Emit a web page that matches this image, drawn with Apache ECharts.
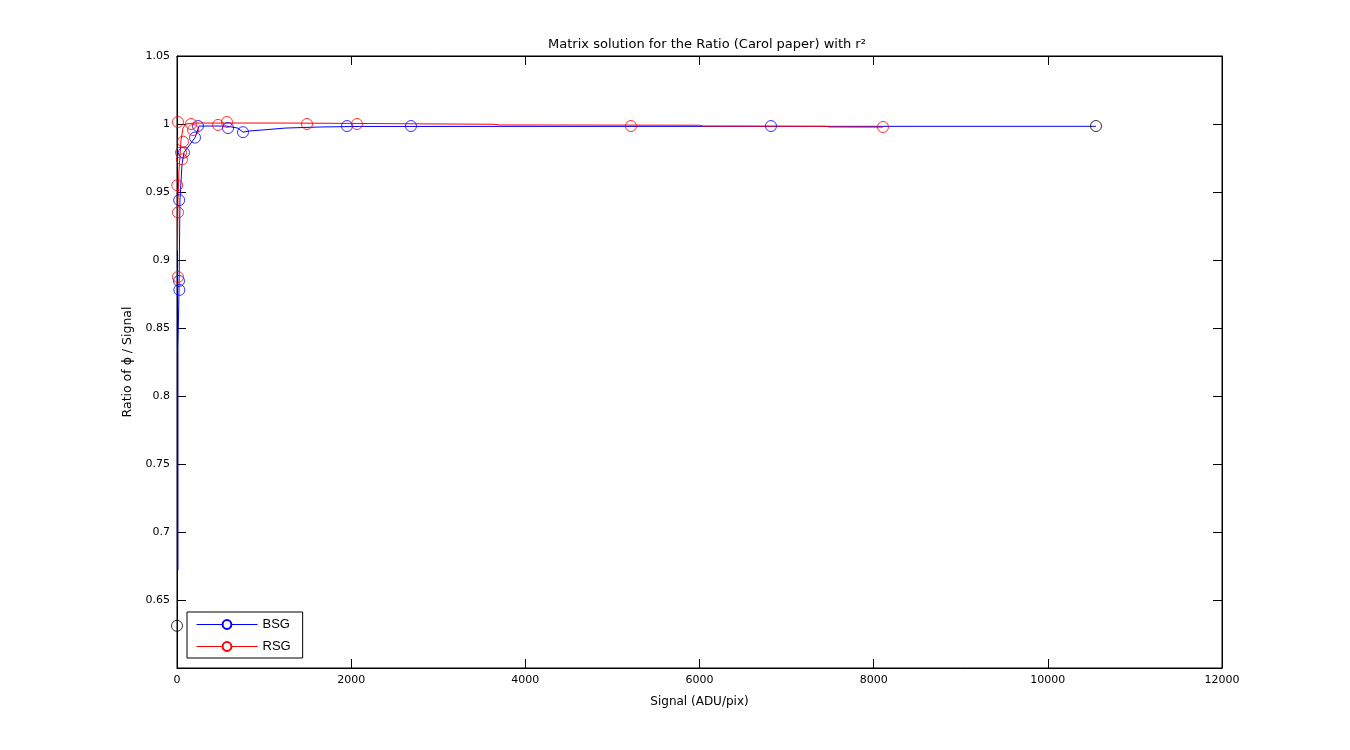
<!DOCTYPE html>
<html>
<head>
<meta charset="utf-8">
<script src="https://cdn.jsdelivr.net/npm/echarts@6/dist/echarts.min.js"></script>
<style>
html,body{margin:0;padding:0;background:#fff;}
#chart{width:1350px;height:750px;}
</style>
</head>
<body>
<div id="chart"></div>
<script>
// ---- data ----
const xTicks = [0, 2000, 4000, 6000, 8000, 10000, 12000];
const yTicks = [0.65, 0.7, 0.75, 0.8, 0.85, 0.9, 0.95, 1, 1.05];

// measured markers (x, ratio)
const bsgMarkersX = [23, 27, 25, 80, 207, 241, 586, 758, 1952, 2687, 6821];
const bsgMarkersY = [0.8846, 0.878, 0.944, 0.979, 0.990, 0.9985, 0.997, 0.994, 0.9985, 0.9985, 0.9985];

const rsgMarkersX = [11, 161, 184, 69, 46, 57, 3, 11, 11, 471, 574, 1493, 2067, 5213, 8107];
const rsgMarkersY = [1.0015, 1.0, 0.9956, 0.987, 0.979, 0.974, 0.955, 0.935, 0.8875, 0.9993, 1.0015, 1.0, 1.0, 0.9985, 0.9978];

const otherMarkersX = [0, 10553];
const otherMarkersY = [0.631, 0.9985];

// drawn curves (vertices)
const bsgLineX = [11, 11, 23, 34, 57, 80, 207, 253, 563, 700, 758, 838, 1056, 1240, 1642, 2101, 10553];
const bsgLineY = [0.672, 0.836, 0.878, 0.944, 0.970, 0.979, 0.990, 0.9985, 0.9985, 0.997, 0.994, 0.9949, 0.996, 0.997, 0.9978, 0.9982, 0.9983];

const rsgLineX = [6, 11, 23, 46, 69, 103, 184, 1275, 1297, 3640, 3709, 6000, 6040, 7453, 7487, 8107];
const rsgLineY = [0.907, 0.944, 0.966, 0.988, 0.997, 1.0, 1.0007, 1.0007, 1.0, 0.9998, 0.9993, 0.9991, 0.9985, 0.9983, 0.9978, 0.9977];

function zip(xs, ys) { return xs.map((x, i) => [x, ys[i]]); }

const chart = echarts.init(document.getElementById('chart'));
const FONT = 'DejaVu Sans, Verdana, sans-serif';
const LFONT = 'Liberation Sans, Arial, Helvetica, sans-serif';
function axisLine() { return { show: true, onZero: false, lineStyle: { color: '#000', width: 1 } }; }
function axisTick() { return { show: true, inside: true, length: 9, lineStyle: { color: '#000', width: 1 } }; }

chart.setOption({
  animation: false,
  backgroundColor: '#fff',
  title: {
    text: 'Matrix solution for the Ratio (Carol paper) with r²',
    left: 702, top: 33, textAlign: 'center',
    textStyle: { fontFamily: FONT, fontSize: 13, fontWeight: 'normal', color: '#000' }
  },
  grid: { left: 177, right: 128, top: 56, bottom: 82, show: true, borderColor: '#000', borderWidth: 1, backgroundColor: '#fff' },
  legend: {
    data: ['BSG', 'RSG'],
    orient: 'vertical',
    left: 187, top: 612,
    backgroundColor: '#fff',
    borderColor: '#000', borderWidth: 1, borderRadius: 0,
    padding: [6, 12, 5, 9],
    itemWidth: 61, itemHeight: 11, itemGap: 9,
    lineStyle: { width: 1 },
    itemStyle: { borderWidth: 1 },
    textStyle: { fontFamily: LFONT, fontSize: 13, color: '#000' }
  },
  xAxis: [
    {
      type: 'value', min: xTicks[0], max: xTicks[xTicks.length - 1], interval: 2000,
      name: 'Signal (ADU/pix)', nameLocation: 'middle', nameGap: 28,
      nameTextStyle: { fontFamily: FONT, fontSize: 12, color: '#000' },
      axisLine: axisLine(), axisTick: axisTick(), splitLine: { show: false },
      axisLabel: { fontFamily: FONT, fontSize: 11, color: '#000', margin: 7, formatter: function (v) { return String(v); } }
    },
    {
      type: 'value', position: 'top', min: xTicks[0], max: xTicks[xTicks.length - 1], interval: 2000,
      axisLine: axisLine(), axisTick: axisTick(), splitLine: { show: false },
      axisLabel: { show: false }
    }
  ],
  yAxis: [
    {
      type: 'value', position: 'left', min: 0.6, max: 1.05, interval: 0.05,
      name: 'Ratio of ϕ / Signal', nameLocation: 'middle', nameGap: 40,
      nameTextStyle: { fontFamily: FONT, fontSize: 12.5, color: '#000' },
      axisLine: axisLine(), axisTick: axisTick(), splitLine: { show: false },
      axisLabel: {
        fontFamily: FONT, fontSize: 11, color: '#000', margin: 7,
        formatter: function (v) {
          const r = Math.round(v * 100) / 100;
          if (Math.abs(r - 0.6) < 1e-6) return '';
          return String(r);
        }
      }
    },
    {
      type: 'value', position: 'right', min: 0.6, max: 1.05, interval: 0.05,
      axisLine: axisLine(), axisTick: axisTick(), splitLine: { show: false },
      axisLabel: { show: false }
    }
  ],
  series: [
    {
      name: 'BSG', type: 'line', data: zip(bsgLineX, bsgLineY),
      symbol: 'emptyCircle', symbolSize: 10, showSymbol: false,
      lineStyle: { color: '#0000ff', width: 1 },
      itemStyle: { color: '#0000ff', borderColor: '#0000ff', borderWidth: 1 },
      z: 3
    },
    {
      name: 'RSG', type: 'line', data: zip(rsgLineX, rsgLineY),
      symbol: 'emptyCircle', symbolSize: 10, showSymbol: false,
      lineStyle: { color: '#ff0000', width: 1 },
      itemStyle: { color: '#ff0000', borderColor: '#ff0000', borderWidth: 1 },
      z: 4
    },
    {
      name: 'BSG pts', type: 'scatter', data: zip(bsgMarkersX, bsgMarkersY),
      symbol: 'circle', symbolSize: 11,
      itemStyle: { color: 'rgba(0,0,0,0)', borderColor: '#0000ff', borderWidth: 1 },
      z: 5
    },
    {
      name: 'RSG pts', type: 'scatter', data: zip(rsgMarkersX, rsgMarkersY),
      symbol: 'circle', symbolSize: 11,
      itemStyle: { color: 'rgba(0,0,0,0)', borderColor: '#ff0000', borderWidth: 1 },
      z: 6
    },
    {
      name: 'other pts', type: 'scatter', data: zip(otherMarkersX, otherMarkersY),
      symbol: 'circle', symbolSize: 11,
      itemStyle: { color: 'rgba(0,0,0,0)', borderColor: '#000000', borderWidth: 1 },
      z: 7
    }
  ]
});
</script>
</body>
</html>
